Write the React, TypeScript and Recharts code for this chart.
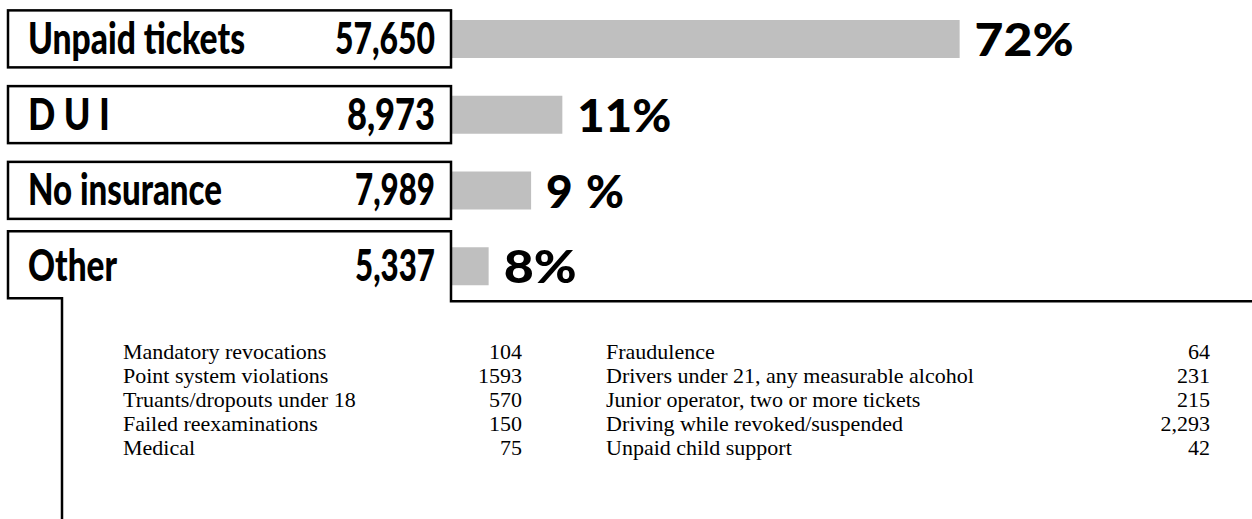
import React from 'react';
import { BarChart, Bar, XAxis, YAxis, LabelList } from 'recharts';

const categories = ['Unpaid tickets', 'D U I', 'No insurance', 'Other'];
const counts = [57650, 8973, 7989, 5337];
const shares = [72, 11, 9, 8];
// bar lengths as drawn in the original graphic (not to scale), in % of the track
const barLengths = [63.5, 13.9, 10.0, 4.7];

const otherReasonsLeft = [
  'Mandatory revocations',
  'Point system violations',
  'Truants/dropouts under 18',
  'Failed reexaminations',
  'Medical',
];
const otherCountsLeft = ['104', '1593', '570', '150', '75'];
const otherReasonsRight = [
  'Fraudulence',
  'Drivers under 21, any measurable alcohol',
  'Junior operator, two or more tickets',
  'Driving while revoked/suspended',
  'Unpaid child support',
];
const otherCountsRight = ['64', '231', '215', '2,293', '42'];

const data = categories.map((name, i) => ({
  name,
  count: counts[i],
  share: shares[i],
  bar: barLengths[i],
}));

const W = 1252;
const H = 519;
const BOX_LEFT = 8;
const BOX_RIGHT = 451;
const HEAD_FONT = 'Lato, "Open Sans", sans-serif';
const LIST_FONT = '"Liberation Serif", "Times New Roman", serif';

// widths that give the condensed / wide look of the original typeface
const nameWidths: Record<string, number> = {
  'Unpaid tickets': 217,
  'D U I': 82,
  'No insurance': 194,
  Other: 89,
};
const countWidths: Record<string, number> = {
  'Unpaid tickets': 100,
  'D U I': 88,
  'No insurance': 80,
  Other: 80,
};
const shareWidths: Record<number, number> = { 72: 99, 11: 94, 9: 78, 8: 73 };

function BoxTick(props: any) {
  const { y, payload } = props;
  const name = payload.value as string;
  const i = categories.indexOf(name);
  const count = counts[i].toLocaleString('en-US');
  const base = y + 15;
  return (
    <g>
      {name === 'Other' ? (
        <path
          d={`M 62 ${H} V ${y + 32} H ${BOX_LEFT} V ${y - 35} H ${BOX_RIGHT} V ${y + 35} H ${W}`}
          fill="none"
          stroke="#000"
          strokeWidth={2.5}
        />
      ) : (
        <rect
          x={BOX_LEFT}
          y={y - 28.5}
          width={BOX_RIGHT - BOX_LEFT}
          height={57}
          fill="#fff"
          stroke="#000"
          strokeWidth={2.5}
        />
      )}
      <text
        x={28}
        y={base}
        fontFamily={HEAD_FONT}
        fontWeight={900}
        fontSize={44}
        fill="#000"
        textLength={nameWidths[name]}
        lengthAdjust="spacingAndGlyphs"
      >
        {name}
      </text>
      <text
        x={435}
        y={base}
        textAnchor="end"
        fontFamily={HEAD_FONT}
        fontWeight={900}
        fontSize={44}
        fill="#000"
        textLength={countWidths[name]}
        lengthAdjust="spacingAndGlyphs"
      >
        {count}
      </text>
    </g>
  );
}

function ShareLabel(props: any) {
  const { x, y, width, height, value } = props;
  return (
    <text
      x={x + width + 15}
      y={y + height / 2 + 17}
      fontFamily={HEAD_FONT}
      fontWeight={900}
      fontSize={46}
      fill="#000"
      textLength={shareWidths[value]}
      lengthAdjust={value === 9 ? 'spacing' : 'spacingAndGlyphs'}
    >
      {value}%
    </text>
  );
}

function ReasonList({ names, values, left, width }: { names: string[]; values: string[]; left: number; width: number }) {
  return (
    <div
      style={{
        position: 'absolute',
        left,
        top: 340,
        width,
        fontFamily: LIST_FONT,
        fontSize: 22,
        lineHeight: '24px',
        color: '#000',
      }}
    >
      {names.map((n, i) => (
        <div key={n} style={{ display: 'flex', justifyContent: 'space-between' }}>
          <span>{n}</span>
          <span>{values[i]}</span>
        </div>
      ))}
    </div>
  );
}

export default function App() {
  return (
    <div style={{ position: 'absolute', left: 0, top: 0, width: W, height: H, background: '#fff' }}>
      <BarChart
        width={W}
        height={H}
        data={data}
        layout="vertical"
        margin={{ top: 1, right: 0, left: 0, bottom: 215 }}
      >
        <XAxis type="number" domain={[0, 100]} hide />
        <YAxis
          type="category"
          dataKey="name"
          width={BOX_RIGHT}
          axisLine={false}
          tickLine={false}
          tick={<BoxTick />}
        />
        <Bar dataKey="bar" fill="#bfbfbf" barSize={38} isAnimationActive={false}>
          <LabelList dataKey="share" content={<ShareLabel />} />
        </Bar>
      </BarChart>
      <ReasonList names={otherReasonsLeft} values={otherCountsLeft} left={123} width={399} />
      <ReasonList names={otherReasonsRight} values={otherCountsRight} left={606} width={604} />
    </div>
  );
}
